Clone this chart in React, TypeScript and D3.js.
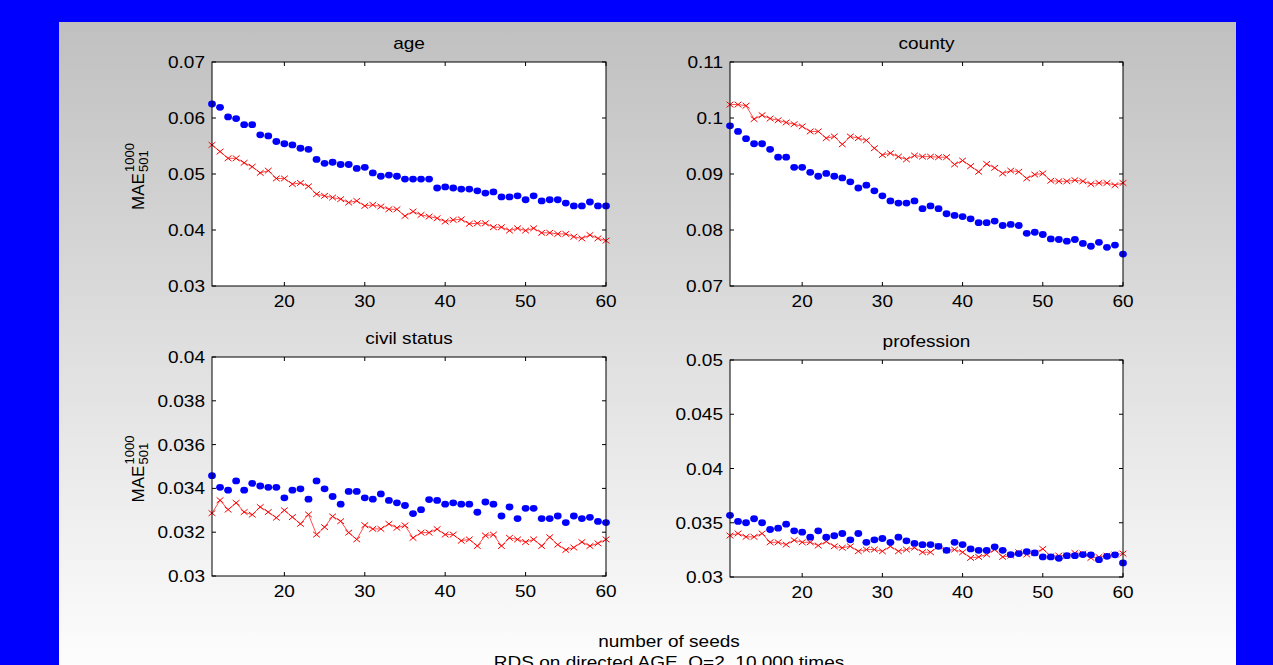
import React from 'react'
import * as d3 from 'd3'

const seeds = d3.range(11, 61)

const ageBlue = [
  0.0625, 0.0619, 0.0602, 0.0599, 0.0588, 0.0588, 0.0570, 0.0568, 0.0558, 0.0554,
  0.0552, 0.0546, 0.0544, 0.0526, 0.0519, 0.0521, 0.0517, 0.0517, 0.0510, 0.0512,
  0.0502, 0.0496, 0.0498, 0.0496, 0.0491, 0.0491, 0.0491, 0.0491, 0.0475, 0.0477,
  0.0475, 0.0473, 0.0473, 0.0470, 0.0466, 0.0468, 0.0459, 0.0459, 0.0461, 0.0454,
  0.0461, 0.0452, 0.0454, 0.0454, 0.0448, 0.0443, 0.0443, 0.0450, 0.0443, 0.0443,
]
const ageRed = [
  0.0552, 0.0540, 0.0528, 0.0528, 0.0520, 0.0513, 0.0502, 0.0506, 0.0492, 0.0492,
  0.0482, 0.0484, 0.0478, 0.0464, 0.0461, 0.0458, 0.0455, 0.0449, 0.0452, 0.0443,
  0.0445, 0.0442, 0.0437, 0.0437, 0.0425, 0.0433, 0.0427, 0.0424, 0.0421, 0.0415,
  0.0418, 0.0419, 0.0411, 0.0412, 0.0412, 0.0405, 0.0405, 0.0399, 0.0403, 0.0399,
  0.0403, 0.0395, 0.0395, 0.0393, 0.0393, 0.0388, 0.0385, 0.0391, 0.0385, 0.0381,
]
const countyBlue = [
  0.0986, 0.0976, 0.0963, 0.0954, 0.0954, 0.0944, 0.0930, 0.0930, 0.0912, 0.0912,
  0.0903, 0.0896, 0.0901, 0.0896, 0.0893, 0.0886, 0.0875, 0.0880, 0.0870, 0.0861,
  0.0852, 0.0848, 0.0848, 0.0852, 0.0838, 0.0843, 0.0838, 0.0829, 0.0826, 0.0824,
  0.0820, 0.0813, 0.0813, 0.0816, 0.0808, 0.0810, 0.0808, 0.0794, 0.0796, 0.0792,
  0.0784, 0.0783, 0.0780, 0.0783, 0.0776, 0.0771, 0.0778, 0.0769, 0.0773, 0.0757,
]
const countyRed = [
  0.1024, 0.1024, 0.1022, 0.0998, 0.1005, 0.0999, 0.0996, 0.0992, 0.0989, 0.0985,
  0.0976, 0.0976, 0.0964, 0.0967, 0.0953, 0.0967, 0.0964, 0.0960, 0.0946, 0.0934,
  0.0937, 0.0931, 0.0926, 0.0933, 0.0931, 0.0931, 0.0930, 0.0930, 0.0917, 0.0924,
  0.0914, 0.0904, 0.0918, 0.0911, 0.0901, 0.0906, 0.0904, 0.0892, 0.0899, 0.0901,
  0.0888, 0.0887, 0.0887, 0.0889, 0.0887, 0.0882, 0.0884, 0.0884, 0.0880, 0.0884,
]
const civilBlue = [
  0.03458, 0.03405, 0.03392, 0.03434, 0.03392, 0.03423, 0.03411, 0.03405, 0.03405, 0.03357,
  0.03392, 0.03398, 0.03351, 0.03434, 0.03398, 0.03363, 0.03328, 0.03386, 0.03386, 0.03357,
  0.03351, 0.03375, 0.03345, 0.03334, 0.03322, 0.03285, 0.03303, 0.03349, 0.03345, 0.03328,
  0.03334, 0.03328, 0.03328, 0.03291, 0.03338, 0.03328, 0.03274, 0.03315, 0.03262, 0.03309,
  0.03309, 0.03262, 0.03262, 0.03274, 0.03244, 0.03274, 0.03262, 0.03268, 0.03249, 0.03244,
]
const civilRed = [
  0.03287, 0.03346, 0.03303, 0.03334, 0.03292, 0.03280, 0.03315, 0.03292, 0.03266, 0.03300,
  0.03269, 0.03238, 0.03281, 0.03189, 0.03223, 0.03272, 0.03250, 0.03198, 0.03167, 0.03232,
  0.03215, 0.03215, 0.03238, 0.03220, 0.03231, 0.03174, 0.03198, 0.03198, 0.03214, 0.03189,
  0.03189, 0.03161, 0.03167, 0.03137, 0.03185, 0.03189, 0.03137, 0.03174, 0.03167, 0.03155,
  0.03167, 0.03137, 0.03177, 0.03143, 0.03119, 0.03130, 0.03155, 0.03137, 0.03149, 0.03167,
]
const profBlue = [
  0.03568, 0.03512, 0.03500, 0.03537, 0.03500, 0.03438, 0.03450, 0.03487, 0.03426, 0.03413,
  0.03367, 0.03426, 0.03367, 0.03380, 0.03401, 0.03343, 0.03401, 0.03320, 0.03343, 0.03355,
  0.03320, 0.03367, 0.03333, 0.03310, 0.03298, 0.03299, 0.03283, 0.03246, 0.03320, 0.03299,
  0.03259, 0.03246, 0.03246, 0.03278, 0.03246, 0.03207, 0.03216, 0.03234, 0.03222, 0.03185,
  0.03185, 0.03172, 0.03197, 0.03197, 0.03207, 0.03204, 0.03160, 0.03191, 0.03204, 0.03130,
]
const profRed = [
  0.03382, 0.03401, 0.03370, 0.03370, 0.03401, 0.03320, 0.03320, 0.03299, 0.03339, 0.03320,
  0.03320, 0.03290, 0.03327, 0.03283, 0.03269, 0.03283, 0.03237, 0.03253, 0.03253, 0.03237,
  0.03283, 0.03237, 0.03253, 0.03270, 0.03228, 0.03228, 0.03283, 0.03246, 0.03253, 0.03228,
  0.03176, 0.03185, 0.03207, 0.03253, 0.03185, 0.03197, 0.03228, 0.03207, 0.03222, 0.03259,
  0.03191, 0.03197, 0.03197, 0.03222, 0.03216, 0.03176, 0.03185, 0.03197, 0.03207, 0.03216,
]

const xTicks = [20, 30, 40, 50, 60]
const ageTicks = [0.03, 0.04, 0.05, 0.06, 0.07]
const countyTicks = [0.07, 0.08, 0.09, 0.1, 0.11]
const civilTicks = [0.03, 0.032, 0.034, 0.036, 0.038, 0.04]
const profTicks = [0.03, 0.035, 0.04, 0.045, 0.05]

const FONT = '"Liberation Sans", Arial, sans-serif'
const SX = 1.12

// horizontally stretched text, like the reference
function T({ x, y, anchor = 'middle', size = 17, children }: any) {
  return (
    <text
      transform={`translate(${x},${y}) scale(${SX},1)`}
      textAnchor={anchor}
      fontSize={size}
      fontFamily={FONT}
      fill="#000"
    >
      {children}
    </text>
  )
}

const panels = [
  { title: 'age', blue: ageBlue, red: ageRed, ticks: ageTicks, box: [212, 62, 606, 286], ylabel: true },
  { title: 'county', blue: countyBlue, red: countyRed, ticks: countyTicks, box: [730, 62, 1123, 286], ylabel: false },
  { title: 'civil status', blue: civilBlue, red: civilRed, ticks: civilTicks, box: [212, 357, 606, 576], ylabel: true },
  { title: 'profession', blue: profBlue, red: profRed, ticks: profTicks, box: [730, 360, 1123, 577], ylabel: false },
]

const fmt = (v: number) => String(+v.toFixed(3))

function Panel({ p, idx }: any) {
  const [x0, y0, x1, y1] = p.box
  const x = d3.scaleLinear().domain([11, 60]).range([x0, x1])
  const y = d3.scaleLinear().domain(d3.extent(p.ticks) as [number, number]).range([y1, y0])
  const line = d3.line<number>().x((d, i) => x(seeds[i])).y(d => y(d))
  const tl = 4
  const cy = (y0 + y1) / 2
  return (
    <g>
      <rect x={x0} y={y0} width={x1 - x0} height={y1 - y0} fill="#fff" />
      <defs>
        <clipPath id={`clip${idx}`}>
          <rect x={x0 - 5} y={y0 - 5} width={x1 - x0 + 10} height={y1 - y0 + 10} />
        </clipPath>
      </defs>
      <g clipPath={`url(#clip${idx})`}>
        <path d={line(p.red) || ''} fill="none" stroke="#ff0000" strokeWidth={0.7} />
        {p.red.map((v: number, i: number) => (
          <path
            key={'r' + i}
            transform={`translate(${x(seeds[i])},${y(v)})`}
            d="M-3.4,-2.8L3.4,2.8M-3.4,2.8L3.4,-2.8"
            stroke="#ff0000"
            strokeWidth={1}
            fill="none"
          />
        ))}
        {p.blue.map((v: number, i: number) => (
          <ellipse key={'b' + i} cx={x(seeds[i])} cy={y(v)} rx={3.9} ry={3.4} fill="#0000ff" />
        ))}
      </g>
      <rect x={x0} y={y0} width={x1 - x0} height={y1 - y0} fill="none" stroke="#000" strokeWidth={1} />
      {xTicks.map(t => (
        <g key={'x' + t}>
          <line x1={x(t)} x2={x(t)} y1={y1} y2={y1 - tl} stroke="#000" />
          <line x1={x(t)} x2={x(t)} y1={y0} y2={y0 + tl} stroke="#000" />
          <T x={x(t)} y={y1 + 21}>{String(t)}</T>
        </g>
      ))}
      {p.ticks.map((t: number) => (
        <g key={'y' + t}>
          <line x1={x0} x2={x0 + tl} y1={y(t)} y2={y(t)} stroke="#000" />
          <line x1={x1} x2={x1 - tl} y1={y(t)} y2={y(t)} stroke="#000" />
          <T x={x0 - 7} y={y(t) + 6} anchor="end">{fmt(t)}</T>
        </g>
      ))}
      <T x={(x0 + x1) / 2} y={y0 - 13}>{p.title}</T>
      {p.ylabel && (
        <g transform={`translate(144,${cy + 36}) rotate(-90)`} fontFamily={FONT} fill="#000">
          <text x={0} y={0} fontSize={17}>MAE</text>
          <text x={38} y={-10} fontSize={13}>1000</text>
          <text x={38} y={4} fontSize={13}>501</text>
        </g>
      )}
    </g>
  )
}

export default function App() {
  return (
    <svg
      width={1273}
      height={665}
      style={{ position: 'absolute', left: 0, top: 0 }}
    >
      <defs>
        <linearGradient id="bg" x1="0" y1="0" x2="0" y2="1">
          <stop offset="0%" stopColor="#c0c0c0" />
          <stop offset="100%" stopColor="#fdfdfd" />
        </linearGradient>
      </defs>
      <rect x={0} y={0} width={1273} height={665} fill="#0000ff" />
      <rect x={59} y={22} width={1177} height={643} fill="url(#bg)" />
      {panels.map((p, i) => (
        <Panel key={p.title} p={p} idx={i} />
      ))}
      <T x={669} y={647}>number of seeds</T>
      <T x={669} y={668}>RDS on directed AGE, Q=2, 10 000 times</T>
    </svg>
  )
}
